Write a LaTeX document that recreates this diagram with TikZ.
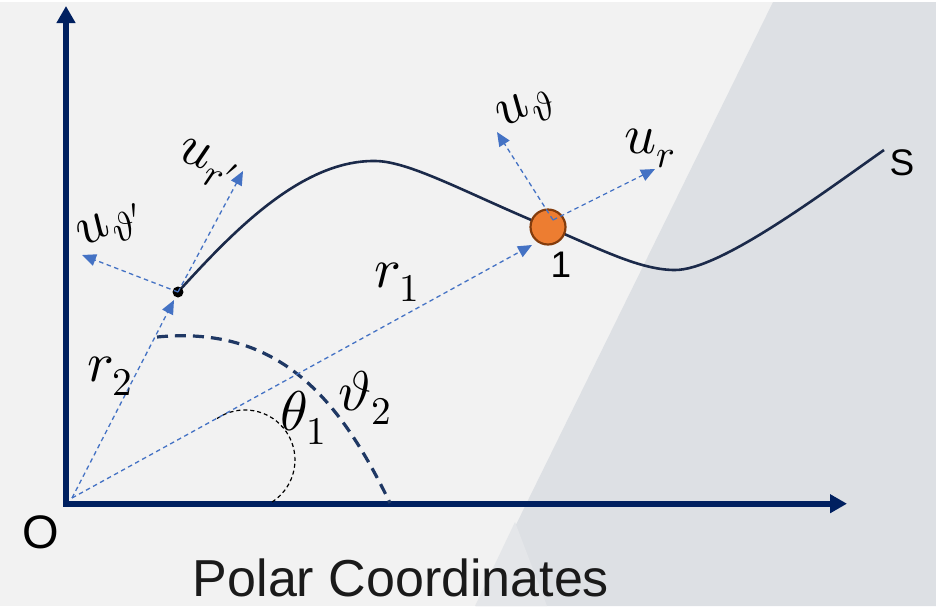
\documentclass[tikz,border=0pt]{standalone}
\usepackage{fontspec}
\setmainfont{Liberation Sans}
\usepackage{unicode-math}
\setmathfont{Latin Modern Math}
\usetikzlibrary{arrows.meta}
\definecolor{bgc}{HTML}{F2F2F2}
\definecolor{darkreg}{HTML}{DDE0E4}
\definecolor{midreg}{HTML}{E4E6E9}
\definecolor{axisc}{HTML}{002060}
\definecolor{curvec}{HTML}{1B2A4A}
\definecolor{arcc}{HTML}{1F3864}
\definecolor{vecc}{HTML}{4472C4}
\definecolor{orangec}{HTML}{ED7D31}
\definecolor{brownc}{HTML}{843C0C}
\definecolor{textc}{HTML}{1A1A1A}
\newcommand{\mylabelm}[1]{\scalebox{1.4}{$#1$}}
\begin{document}
\begin{tikzpicture}[x=1pt,y=-1pt,
  axisline/.style={draw=axisc,line width=6pt,line join=miter,
    {Triangle[length=17pt,width=18pt]}-{Triangle[length=17pt,width=18pt]}},
  vecline/.style={draw=vecc,line width=1.3pt,dash pattern=on 4.5pt off 3.5pt,
    -{Triangle[length=14pt,width=12pt]}},
  mathlab/.style={inner sep=0pt,font=\fontsize{40}{44}\selectfont},
  sanslab/.style={inner sep=0pt,anchor=base},
]
\useasboundingbox (0,0) rectangle (936,606);
% background
\fill[bgc] (0,0) rectangle (936,606);
\fill[white] (0,0) rectangle (936,2);
\fill[darkreg] (773,2) -- (936,2) -- (936,606) -- (476,606) -- cycle;
\fill[midreg] (515,522) -- (547,606) -- (475,606) -- cycle;

% named points
\coordinate (O) at (72,498);
\coordinate (ytip) at (66,6);
\coordinate (corner) at (66,503.7);
\coordinate (xtip) at (847,503.7);
\coordinate (P2) at (178,292);
\coordinate (r1tip) at (532,245);
\coordinate (r2tip) at (174,300);
\coordinate (urtip) at (655,169);
\coordinate (uthtip) at (497,132);
\coordinate (urptip) at (243,171);
\coordinate (uthptip) at (82,255);
\coordinate (Q1) at (553,220);

% axes
\draw[axisline] (ytip) -- (corner) -- (xtip);

% big dashed arc
\draw[arcc,line width=3.2pt,dash pattern=on 11pt off 7pt]
  (157,337) .. controls (280,325) and (340,400) .. (390,503);
% small theta arc
\draw[black,line width=1.2pt,dash pattern=on 4pt off 3pt]
  (217,418.5) arc[start angle=-124,end angle=59,radius=50];

% radial vectors
\draw[vecline] (O) -- (r1tip);
\draw[vecline] (O) -- (r2tip);

% curve
\draw[curvec,line width=2.6pt]
  (P2) .. controls (230,235) and (300,160) .. (375,161)
       .. controls (410,161) and (470,195) .. (548,227)
       .. controls (600,249) and (640,270) .. (675,270)
       .. controls (720,270) and (820,195) .. (884,150);

% point 1
\node[circle,fill=orangec,draw=brownc,line width=2.2pt,minimum size=35pt,inner sep=0pt] (pt1) at (548,227) {};
\draw[vecline] (Q1) -- (urtip);
\draw[vecline] (Q1) -- (uthtip);

% point 2
\node[circle,fill=black,minimum size=11pt,inner sep=0pt] (pt2) at (P2) {};
\draw[vecline] (pt2.center) -- (urptip);
\draw[vecline] (pt2.center) -- (uthptip);

% labels
\node[mathlab] (lur) at (650,148) {\mylabelm{u_r}};
\node[mathlab,rotate=30] (luth) at (526,110) {\mylabelm{u_\vartheta}};
\node[mathlab,rotate=-20] (lurp) at (208,165) {\mylabelm{u_{r\prime}}};
\node[mathlab,rotate=28] (luthp) at (112,227) {\mylabelm{u_{\vartheta\prime}}};
\node[mathlab] (lr1) at (397,282) {\mylabelm{r_1}};
\node[mathlab] (lr2) at (110,376) {\mylabelm{r_2}};
\node[mathlab] (lth1) at (304,418) {\mylabelm{\theta_1}};
\node[mathlab] (lth2) at (365,398) {\mylabelm{\vartheta_2}};

\node[sanslab,font=\fontsize{47}{50}\selectfont] (lO) at (41,548) {O};
\node[sanslab,font=\fontsize{37}{40}\selectfont] (lS) at (902,175) {S};
\node[sanslab,font=\fontsize{37}{40}\selectfont] (l1) at (561,277) {1};
\node[sanslab,font=\fontsize{52}{56}\selectfont,text=textc] (title) at (401,596) {Polar Coordinates};
\end{tikzpicture}
\end{document}
